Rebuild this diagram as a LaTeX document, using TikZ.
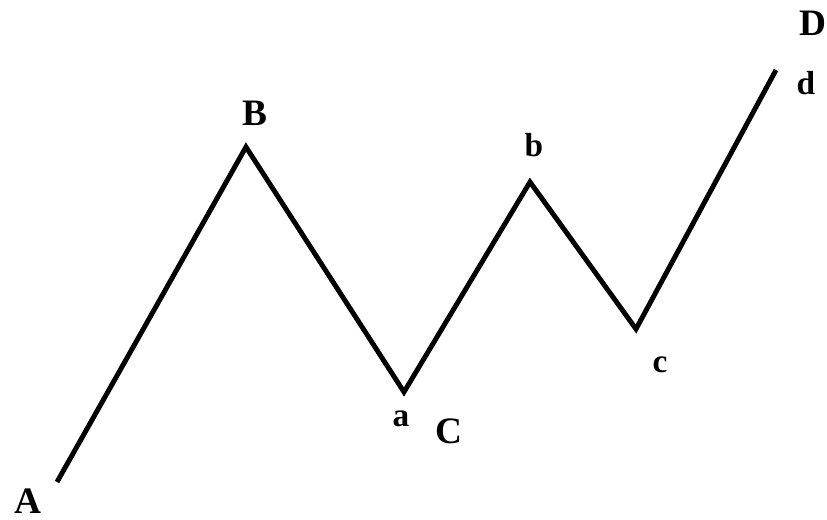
\documentclass[tikz,border=0pt]{standalone}
\usepackage{fontspec}
\setmainfont{Liberation Serif}
\tikzset{
  onda/.style={line width=3.7pt, black},
  mayor/.style={font=\fontsize{28}{28}\selectfont\bfseries, inner sep=0pt},
  menor/.style={font=\fontsize{25}{25}\selectfont\bfseries, inner sep=0pt}
}
\begin{document}
\begin{tikzpicture}[x=0.75pt, y=-0.75pt]
  % Marco
  \useasboundingbox (0,0) rectangle (827,520);

  % Puntos de giro
  \coordinate (pA) at (57,482);
  \coordinate (pB) at (246,147);
  \coordinate (pa) at (404,392);
  \coordinate (pb) at (530,182);
  \coordinate (pc) at (636,329);
  \coordinate (pd) at (776,70);

  % Onda
  \draw[onda] (pA) -- (pB) -- (pa) -- (pb) -- (pc) -- (pd);

  % Etiquetas mayores
  \node[mayor] (lA) at (28,501) {A};
  \node[mayor] (lB) at (255,113) {B};
  \node[mayor] (lC) at (449,431) {C};
  \node[mayor] (lD) at (813,23) {D};

  % Etiquetas menores
  \node[menor] (la) at (401,419) {a};
  \node[menor] (lb) at (534,145) {b};
  \node[menor] (lc) at (660,365) {c};
  \node[menor] (ld) at (806,83) {d};
\end{tikzpicture}
\end{document}
